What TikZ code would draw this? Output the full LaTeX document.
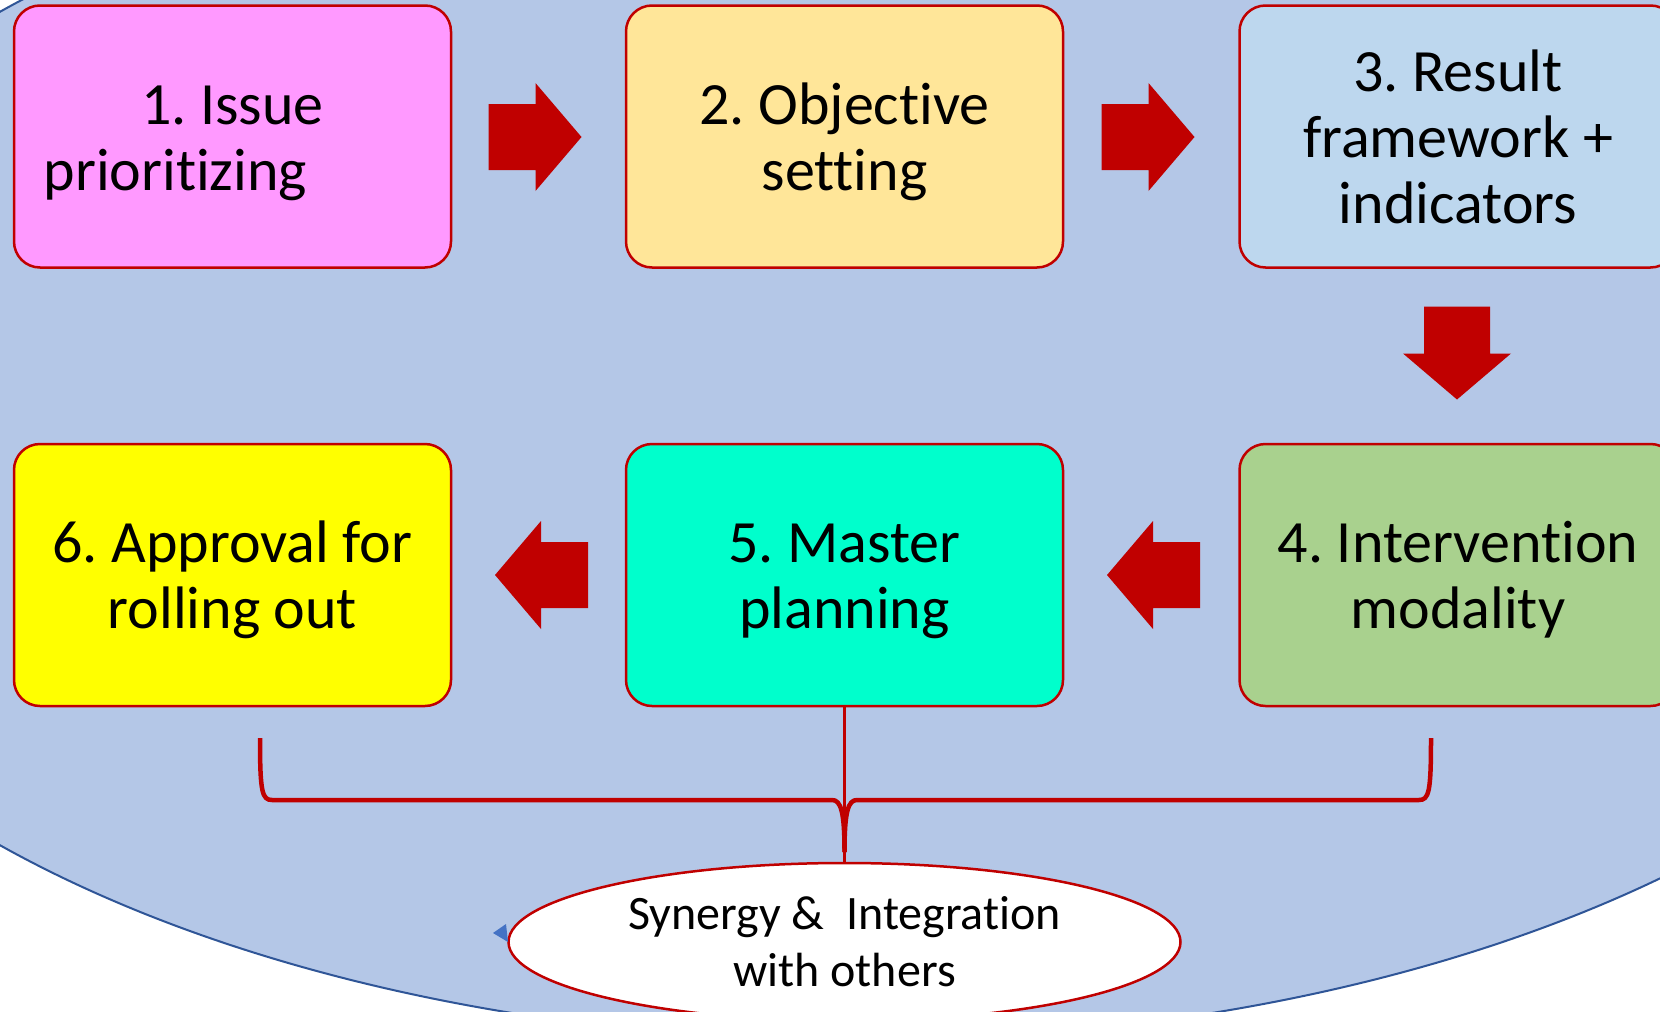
\documentclass[tikz,border=0pt]{standalone}
\usepackage{fontspec}
\setmainfont{Carlito}[Ligatures=NoCommon]
\usetikzlibrary{shapes.geometric}
\definecolor{bgfill}{HTML}{B4C7E7}
\definecolor{bgedge}{HTML}{2F5597}
\definecolor{bred}{HTML}{C00000}
\definecolor{cone}{HTML}{FF99FF}
\definecolor{ctwo}{HTML}{FFE699}
\definecolor{cthree}{HTML}{BDD7EE}
\definecolor{cfour}{HTML}{A9D18E}
\definecolor{cfive}{HTML}{00FFCC}
\definecolor{csix}{HTML}{FFFF00}
\definecolor{tri}{HTML}{4472C4}
\newcommand\mytop{\rule{0pt}{55pt}}
\newcommand\mybot{\rule[-14pt]{0pt}{14pt}}
\frenchspacing
\tikzset{
  box/.style={draw=bred, line width=2.5pt, rounded corners=26pt,
    minimum width=437pt, minimum height=262pt, inner sep=0pt,
    align=center, font=\fontsize{60}{66}\selectfont},
  blockarrow/.pic={\fill[bred] (-46.5,-33) -- (0.5,-33) -- (0.5,-54) -- (46.5,0)
      -- (0.5,54) -- (0.5,33) -- (-46.5,33) -- cycle;},
  bracestyle/.style={draw=bred, line width=4.5pt, line join=round},
}
\begin{document}
\begin{tikzpicture}[x=1pt,y=-1pt]
\clip (0,0) rectangle (1660,1012);
\fill[white] (0,0) rectangle (1660,1012);
% background ellipse
\filldraw[fill=bgfill, draw=bgedge, line width=2pt]
  (862,428.5) ellipse [x radius=1177pt, y radius=612pt];
% boxes
\node[box, fill=cone]   (b1) at (232.5,136.5) {\mytop 1. Issue\\prioritizing\mybot\rule{114pt}{0pt}};
\node[box, fill=ctwo]   (b2) at (844.5,136.5) {\mytop 2. Objective\\setting\mybot};
\node[box, fill=cthree] (b3) at (1458,136.5) {\mytop 3. Result\\framework +\\indicators\mybot};
\node[box, fill=cfour]  (b4) at (1458,575) {\mytop 4. Intervention\\modality\mybot};
\node[box, fill=cfive]  (b5) at (844.5,575) {\mytop 5. Master\\planning\mybot};
\node[box, fill=csix]   (b6) at (232.5,575) {\mytop 6. Approval for\\rolling out\mybot};
% block arrows
\pic at (535,137) {blockarrow};
\pic at (1148,137) {blockarrow};
\pic[rotate=-90] at (1457,353) {blockarrow};
\pic[rotate=180] at (1153.5,575) {blockarrow};
\pic[rotate=180] at (541.5,575) {blockarrow};
% synergy ellipse
\node[ellipse, draw=bred, fill=white, line width=2.5pt, inner sep=0pt,
  minimum width=672pt, minimum height=158pt, align=center,
  font=\fontsize{48}{57}\selectfont] (syn) at (844.5,942)
  {\rule{0pt}{40pt}Synergy \&~ Integration\\with others\rule[-8pt]{0pt}{8pt}};
% small blue marker
\fill[tri] (493,933) -- (506,924) -- (508,942) -- cycle;
% connector and brace
\coordinate (bl) at (260,738);
\coordinate (br) at (1431,738);
\coordinate (bt) at (844.5,852);
\draw[bred, line width=2.5pt] (b5.south) -- (syn.north);
\draw[bracestyle] (bl) .. controls (260,792) and (262,800) .. (272,800)
  -- (832,800) .. controls (841,800) and (844.5,812) .. (bt);
\draw[bracestyle] (br) .. controls (1431,792) and (1429,800) .. (1419,800)
  -- (857,800) .. controls (848,800) and (844.5,812) .. (bt);
\end{tikzpicture}
\end{document}
